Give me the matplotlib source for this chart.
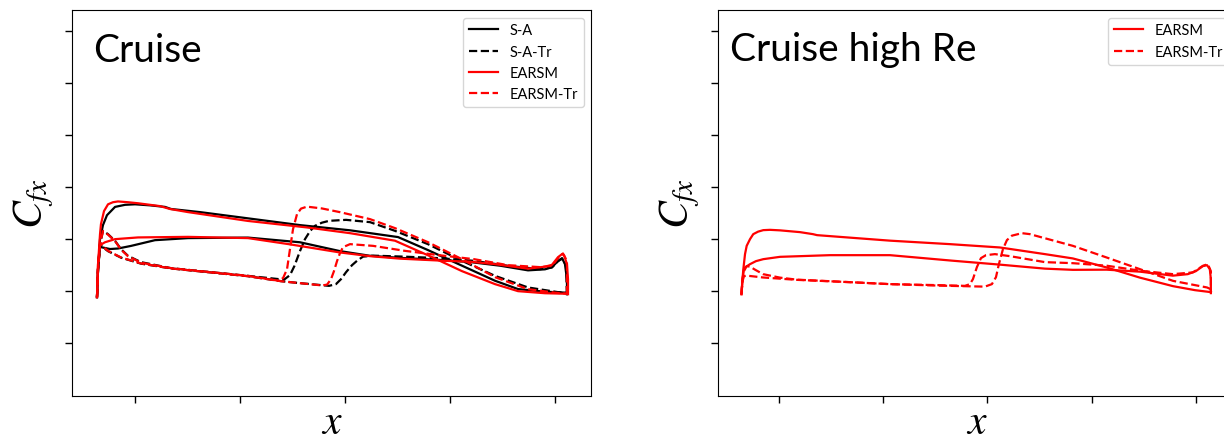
import matplotlib.pyplot as plt

plt.rcParams['font.family'] = ['Lato', 'DejaVu Sans']
plt.rcParams['mathtext.fontset'] = 'stix'

# ---- Cruise (left panel) ----
# S-A, fully turbulent
sa_up_x = [0.638, 0.648, 0.667, 0.695, 0.733, 0.810, 0.905, 1.0, 1.143, 1.286, 1.343, 1.619, 2.0, 2.571,
           3.048, 3.505, 3.790, 4.114, 4.429, 4.648, 4.905, 5.114]
sa_up_cf = [0.885, 1.42, 2.0, 2.27, 2.46, 2.62, 2.66, 2.67, 2.65, 2.62, 2.58, 2.52, 2.42, 2.27,
            2.17, 2.04, 1.79, 1.49, 1.20, 1.04, 0.99, 0.97]
sa_lo_x = [0.638, 0.648, 0.667, 0.762, 0.838, 0.962, 1.190, 1.505, 2.076, 2.571, 2.952, 3.238, 3.524,
           3.905, 4.190, 4.476, 4.743, 4.905, 4.971, 5.029, 5.067, 5.095, 5.114, 5.114]
sa_lo_cf = [0.885, 1.42, 1.85, 1.81, 1.82, 1.87, 1.98, 2.02, 2.03, 1.94, 1.77, 1.68, 1.64,
            1.60, 1.56, 1.49, 1.40, 1.42, 1.46, 1.58, 1.635, 1.52, 1.23, 0.94]

# S-A with transition
satr_up_x = [0.638, 0.648, 0.667, 0.695, 0.743, 0.810, 0.867, 0.933, 1.057, 1.343, 2.076, 2.419, 2.476,
             2.519, 2.571, 2.619, 2.667, 2.714, 2.781, 2.848, 3.010, 3.238, 3.476, 3.790, 4.114, 4.429,
             4.743, 5.029, 5.114]
satr_up_cf = [0.885, 1.423, 1.904, 2.160, 2.096, 1.967, 1.808, 1.679, 1.558, 1.442, 1.294, 1.221, 1.308,
              1.487, 1.769, 2.0, 2.154, 2.256, 2.317, 2.352, 2.371, 2.327, 2.160, 1.904, 1.583, 1.294,
              1.071, 0.981, 0.962]
satr_lo_x = [0.638, 0.648, 0.667, 0.705, 0.743, 0.867, 1.057, 1.343, 2.076, 2.390, 2.571, 2.848, 2.914,
             2.962, 3.010, 3.067, 3.114, 3.171, 3.267, 3.571, 3.895, 4.229, 4.552, 4.857, 4.971, 5.029,
             5.067, 5.105, 5.114]
satr_lo_cf = [0.885, 1.423, 1.894, 1.827, 1.769, 1.644, 1.529, 1.437, 1.288, 1.192, 1.154, 1.102, 1.135,
              1.231, 1.365, 1.5, 1.583, 1.663, 1.683, 1.663, 1.635, 1.583, 1.487, 1.423, 1.456, 1.577,
              1.625, 1.5, 0.942]

# EARSM, fully turbulent
ea_up_x = [0.638, 0.648, 0.667, 0.676, 0.705, 0.743, 0.790, 0.838, 0.933, 1.029, 1.238, 1.333, 1.505,
           2.076, 2.638, 3.048, 3.476, 3.790, 4.114, 4.429, 4.648, 4.905, 5.114]
ea_up_cf = [0.885, 1.52, 2.10, 2.29, 2.54, 2.67, 2.71, 2.725, 2.71, 2.69, 2.635, 2.58, 2.52,
            2.35, 2.225, 2.115, 1.97, 1.69, 1.385, 1.135, 1.0, 0.96, 0.95]
ea_lo_x = [0.638, 0.648, 0.667, 0.714, 0.810, 1.029, 1.505, 2.076, 2.476, 2.952, 3.238, 3.524, 3.952,
           4.190, 4.429, 4.743, 4.905, 4.971, 5.029, 5.067, 5.086, 5.114, 5.124, 5.124]
ea_lo_cf = [0.885, 1.52, 1.885, 1.94, 2.0, 2.033, 2.044, 2.02, 1.90, 1.744, 1.673, 1.625, 1.583,
            1.567, 1.519, 1.433, 1.471, 1.506, 1.654, 1.712, 1.692, 1.519, 1.231, 0.942]

# EARSM with transition
eatr_up_x = [0.638, 0.648, 0.667, 0.695, 0.743, 0.810, 0.867, 0.933, 1.057, 1.343, 2.076, 2.362, 2.410,
             2.448, 2.476, 2.505, 2.543, 2.581, 2.638, 2.781, 2.952, 3.238, 3.476, 3.790, 4.114, 4.429,
             4.743, 5.0, 5.114]
eatr_up_cf = [0.885, 1.423, 1.904, 2.154, 2.087, 1.962, 1.798, 1.673, 1.548, 1.442, 1.294, 1.202, 1.25,
              1.423, 1.808, 2.192, 2.481, 2.587, 2.625, 2.590, 2.519, 2.385, 2.212, 1.942, 1.615, 1.269,
              1.038, 0.971, 0.952]
eatr_lo_x = [0.638, 0.648, 0.667, 0.705, 0.743, 0.867, 1.057, 1.343, 2.076, 2.390, 2.571, 2.781, 2.829,
             2.867, 2.895, 2.924, 2.952, 2.981, 3.048, 3.267, 3.571, 3.895, 4.229, 4.552, 4.857, 4.971,
             5.029, 5.076, 5.114, 5.114]
eatr_lo_cf = [0.885, 1.423, 1.904, 1.837, 1.775, 1.648, 1.533, 1.437, 1.288, 1.192, 1.154, 1.110, 1.125,
              1.231, 1.385, 1.577, 1.731, 1.846, 1.904, 1.871, 1.775, 1.692, 1.615, 1.5, 1.462, 1.487,
              1.635, 1.725, 1.583, 0.942]

# ---- Cruise high Re (right panel) ----
hr_up_x = [0.640, 0.650, 0.658, 0.674, 0.690, 0.722, 0.753, 0.799, 0.849, 0.914, 1.010, 1.201, 1.326,
           1.365, 1.681, 2.065, 2.640, 3.120, 3.552, 3.820, 4.143, 4.463, 4.781, 4.992, 5.145]
hr_up_cf = [0.942, 1.231, 1.423, 1.712, 1.871, 2.0, 2.096, 2.144, 2.173, 2.179, 2.169, 2.135, 2.096,
            2.077, 2.029, 1.971, 1.904, 1.840, 1.712, 1.629, 1.456, 1.260, 1.096, 1.019, 0.981]
hr_lo_x = [0.640, 0.650, 0.664, 0.674, 0.722, 0.779, 0.849, 1.010, 1.489, 2.065, 2.657, 3.120, 3.552,
           3.820, 4.143, 4.463, 4.779, 4.923, 5.0, 5.067, 5.107, 5.134, 5.144, 5.144]
hr_lo_cf = [0.942, 1.231, 1.423, 1.456, 1.519, 1.577, 1.615, 1.660, 1.692, 1.692, 1.587, 1.510, 1.433,
            1.410, 1.413, 1.375, 1.298, 1.327, 1.385, 1.481, 1.5, 1.423, 1.231, 0.962]

hrtr_up_x = [0.640, 0.650, 0.664, 0.690, 0.722, 0.770, 0.847, 1.010, 1.173, 1.681, 2.065, 2.544, 2.976,
             3.043, 3.082, 3.110, 3.149, 3.187, 3.235, 3.331, 3.408, 3.523, 3.820, 4.143, 4.463, 4.781,
             5.107, 5.144]
hrtr_up_cf = [0.942, 1.231, 1.385, 1.481, 1.471, 1.413, 1.327, 1.260, 1.221, 1.173, 1.135, 1.106, 1.087,
              1.135, 1.269, 1.519, 1.808, 1.981, 2.067, 2.115, 2.096, 2.033, 1.871, 1.648, 1.423, 1.198,
              1.071, 1.038]
hrtr_lo_x = [0.640, 0.650, 0.664, 0.693, 0.847, 1.173, 1.681, 2.065, 2.544, 2.784, 2.832, 2.861, 2.899,
             2.938, 2.986, 3.072, 3.216, 3.552, 3.820, 4.143, 4.463, 4.779, 4.971, 5.067, 5.115, 5.144,
             5.144]
hrtr_lo_cf = [0.942, 1.192, 1.288, 1.298, 1.263, 1.217, 1.173, 1.135, 1.115, 1.102, 1.135, 1.231, 1.462,
              1.635, 1.692, 1.712, 1.673, 1.558, 1.538, 1.490, 1.394, 1.327, 1.360, 1.487, 1.519, 1.385,
              1.0]

W, H = 1224, 439
fig = plt.figure(figsize=(W / 100, H / 100), dpi=100)
ax1 = fig.add_axes([72 / W, (H - 396.7) / H, 519 / W, 385.4 / H])
ax2 = fig.add_axes([717.5 / W, (H - 396.7) / H, 519 / W, 385.4 / H])

lw = 1.6
# left panel
ax1.plot(sa_up_x, sa_up_cf, 'k-', lw=lw, label='S-A')
ax1.plot(sa_lo_x, sa_lo_cf, 'k-', lw=lw)
ax1.plot(satr_up_x, satr_up_cf, 'k--', lw=lw, label='S-A-Tr')
ax1.plot(satr_lo_x, satr_lo_cf, 'k--', lw=lw)
ax1.plot(ea_up_x, ea_up_cf, 'r-', lw=lw, label='EARSM')
ax1.plot(ea_lo_x, ea_lo_cf, 'r-', lw=lw)
ax1.plot(eatr_up_x, eatr_up_cf, 'r--', lw=lw, label='EARSM-Tr')
ax1.plot(eatr_lo_x, eatr_lo_cf, 'r--', lw=lw)

# right panel
ax2.plot(hr_up_x, hr_up_cf, 'r-', lw=lw, label='EARSM')
ax2.plot(hr_lo_x, hr_lo_cf, 'r-', lw=lw)
ax2.plot(hrtr_up_x, hrtr_up_cf, 'r--', lw=lw, label='EARSM-Tr')
ax2.plot(hrtr_lo_x, hrtr_lo_cf, 'r--', lw=lw)

ax1.set_xlim(0.4, 5.343)
ax2.set_xlim(0.41, 5.39)

for ax in (ax1, ax2):
    ax.set_ylim(-1.01, 6.40)
    ax.set_xticks([1, 2, 3, 4, 5])
    ax.set_yticks([0, 1, 2, 3, 4, 5, 6])
    ax.set_xticklabels([])
    ax.set_yticklabels([])
    ax.tick_params(length=5, width=1)
    ax.set_xlabel(r'$x$', fontsize=30, labelpad=-4)
    ax.set_ylabel(r'$C_{fx}$', fontsize=30, labelpad=3)
    ax.legend(loc='upper right', fontsize=10.5)

ax1.text(0.040, 0.868, 'Cruise', transform=ax1.transAxes, fontsize=28, va='baseline')
ax2.text(0.024, 0.870, 'Cruise high Re', transform=ax2.transAxes, fontsize=28, va='baseline')

fig.savefig('out.png', dpi=100)
